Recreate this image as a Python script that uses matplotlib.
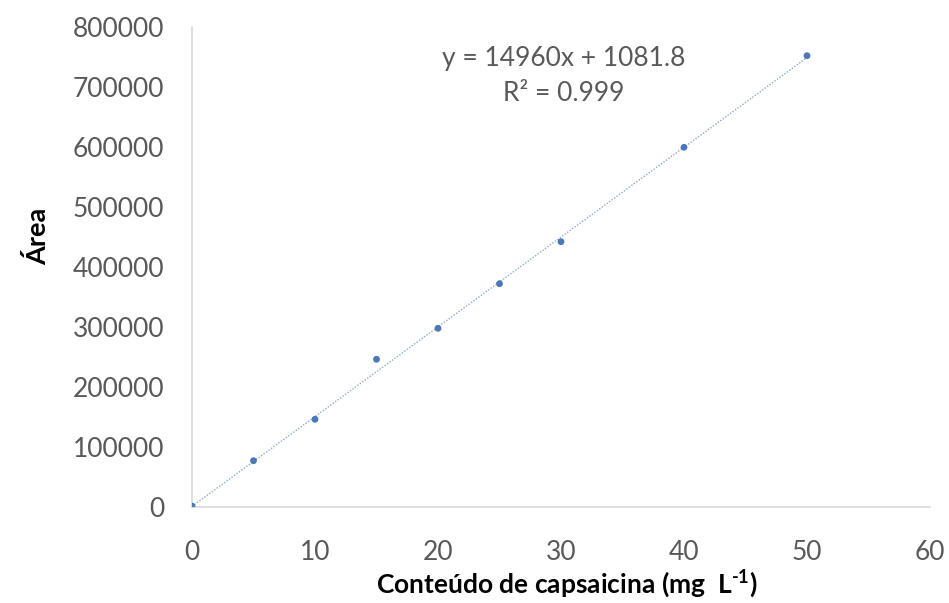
import matplotlib
matplotlib.use("Agg")
import matplotlib.pyplot as plt
import numpy as np

# Data
conc = [0, 5, 10, 15, 20, 25, 30, 40, 50]
area = [1500, 77200, 146200, 246200, 297800, 372200, 442200, 599500, 752200]
slope = 14960
intercept = 1081.8
r2 = 0.999
x_ticks = [0, 10, 20, 30, 40, 50, 60]
y_ticks = [0, 100000, 200000, 300000, 400000, 500000, 600000, 700000, 800000]

plt.rcParams['font.family'] = ['Lato', 'DejaVu Sans']

fig = plt.figure(figsize=(9.49, 6.03), dpi=100)
ax = fig.add_axes([192/949, 1-507/603, (930-192)/949, (507-27)/603])

xf = np.array([min(conc), max(conc)])
ax.plot(xf, slope*xf + intercept, linestyle=(0, (1, 1.2)), color='#8fa9c4', linewidth=1.0, zorder=2)
ax.scatter(conc, area, s=24, color='#4a78b8', zorder=3, edgecolors='none')

ax.set_xlim(0, 60)
ax.set_ylim(0, 800000)
ax.set_xticks(x_ticks)
ax.set_yticks(y_ticks)
ax.set_xticklabels([str(v) for v in x_ticks])
ax.set_yticklabels([str(v) for v in y_ticks])
ax.tick_params(axis='both', length=0, labelsize=19, colors='#595959')
ax.tick_params(axis='y', pad=20)
ax.tick_params(axis='x', pad=24)

for s in ['top', 'right']:
    ax.spines[s].set_visible(False)
for s in ['left', 'bottom']:
    ax.spines[s].set_color('#d9d9d9')
    ax.spines[s].set_linewidth(1.2)

fig.text(567/949, 1-584/603, 'Conteúdo de capsaicina (mg  L$^{\\mathregular{‐1}}$)',
         fontsize=19, fontweight='bold', ha='center', va='center')
fig.text(38/949, 1-236/603, 'Área', fontsize=19.5, fontweight='bold',
         ha='center', va='center', rotation=90)

ax.text(0.503, 0.935, f'y = {slope}x + {intercept}', transform=ax.transAxes,
        ha='center', va='center', fontsize=19, color='#595959')
ax.text(0.503, 0.862, f'R² = {r2}', transform=ax.transAxes,
        ha='center', va='center', fontsize=19, color='#595959')

fig.savefig('out.png', dpi=100)
